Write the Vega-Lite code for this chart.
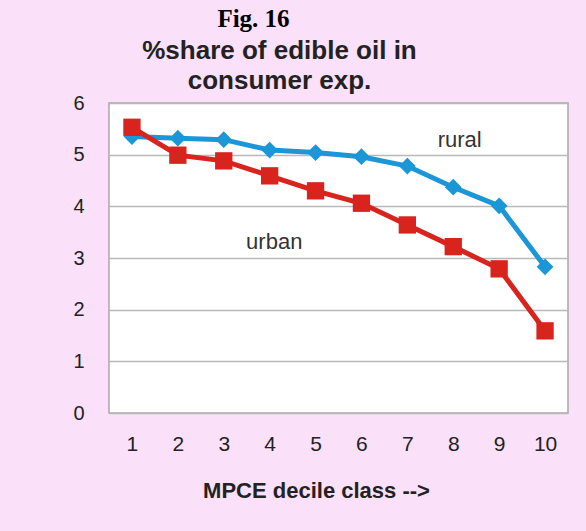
{
  "$schema": "https://vega.github.io/schema/vega-lite/v6.json",
  "width": 459,
  "height": 310,
  "autosize": {"type": "none"},
  "padding": {"left": 109, "top": 103, "right": 18, "bottom": 118},
  "background": "#fae0f8",
  "title": {
    "text": "Fig. 16",
    "font": "Liberation Serif",
    "fontSize": 25,
    "fontWeight": "bold",
    "color": "#000000",
    "anchor": "middle",
    "frame": "group",
    "dx": -85,
    "offset": 5
  },
  "config": {
    "view": {"fill": "#ffffff", "stroke": "#a8a8a8", "strokeWidth": 1.5},
    "font": "Liberation Sans"
  },
  "data": {
    "values": [
      {"decile": 1, "sector": "rural", "share": 5.35},
      {"decile": 2, "sector": "rural", "share": 5.32},
      {"decile": 3, "sector": "rural", "share": 5.29},
      {"decile": 4, "sector": "rural", "share": 5.09},
      {"decile": 5, "sector": "rural", "share": 5.04},
      {"decile": 6, "sector": "rural", "share": 4.96},
      {"decile": 7, "sector": "rural", "share": 4.78},
      {"decile": 8, "sector": "rural", "share": 4.37},
      {"decile": 9, "sector": "rural", "share": 4.01},
      {"decile": 10, "sector": "rural", "share": 2.83},
      {"decile": 1, "sector": "urban", "share": 5.53},
      {"decile": 2, "sector": "urban", "share": 4.99},
      {"decile": 3, "sector": "urban", "share": 4.88},
      {"decile": 4, "sector": "urban", "share": 4.59},
      {"decile": 5, "sector": "urban", "share": 4.30},
      {"decile": 6, "sector": "urban", "share": 4.06},
      {"decile": 7, "sector": "urban", "share": 3.64},
      {"decile": 8, "sector": "urban", "share": 3.22},
      {"decile": 9, "sector": "urban", "share": 2.79},
      {"decile": 10, "sector": "urban", "share": 1.59}
    ]
  },
  "encoding": {
    "x": {
      "field": "decile",
      "type": "quantitative",
      "scale": {"domain": [0.5, 10.5], "nice": false, "zero": false},
      "axis": {
        "values": [1, 2, 3, 4, 5, 6, 7, 8, 9, 10],
        "grid": false,
        "domain": false,
        "ticks": false,
        "labelFontSize": 21,
        "labelColor": "#222222",
        "labelPadding": 20,
        "labelFlush": false,
        "title": "MPCE decile class -->",
        "titleFontSize": 22,
        "titleFontWeight": "bold",
        "titleColor": "#222222",
        "titleX": 207,
        "titleY": 84,
        "titleAlign": "center",
        "titleBaseline": "alphabetic"
      }
    },
    "y": {
      "field": "share",
      "type": "quantitative",
      "scale": {"domain": [0, 6], "nice": false},
      "axis": {
        "values": [0, 1, 2, 3, 4, 5, 6],
        "grid": true,
        "gridColor": "#b8b8b8",
        "gridWidth": 1.5,
        "domain": false,
        "ticks": false,
        "labelFontSize": 20,
        "labelColor": "#222222",
        "labelPadding": 25,
        "labelFlush": false,
        "title": ["%share of edible oil in", "consumer exp."],
        "titleFont": "Liberation Sans",
        "titleFontSize": 26,
        "titleFontWeight": "bold",
        "titleColor": "#222222",
        "titleLineHeight": 30,
        "titleAngle": 0,
        "titleX": 170,
        "titleY": -45,
        "titleAlign": "center",
        "titleBaseline": "alphabetic"
      }
    },
    "color": {
      "field": "sector",
      "type": "nominal",
      "scale": {"domain": ["rural", "urban"], "range": ["#1b96d6", "#d9231d"]},
      "legend": null
    }
  },
  "layer": [
    {
      "mark": {"type": "line", "strokeWidth": 5}
    },
    {
      "mark": {"type": "point", "filled": true, "opacity": 1},
      "encoding": {
        "shape": {
          "field": "sector",
          "type": "nominal",
          "scale": {"domain": ["rural", "urban"], "range": ["diamond", "square"]},
          "legend": null
        },
        "size": {
          "field": "sector",
          "type": "nominal",
          "scale": {"domain": ["rural", "urban"], "range": [280, 300]},
          "legend": null
        }
      }
    },
    {
      "data": {
        "values": [
          {"decile": 8.14, "share": 5.28, "label": "rural"},
          {"decile": 4.1, "share": 3.31, "label": "urban"}
        ]
      },
      "mark": {"type": "text", "fontSize": 22, "align": "center", "baseline": "middle"},
      "encoding": {
        "text": {"field": "label"},
        "color": {"value": "#333333"}
      }
    }
  ]
}
